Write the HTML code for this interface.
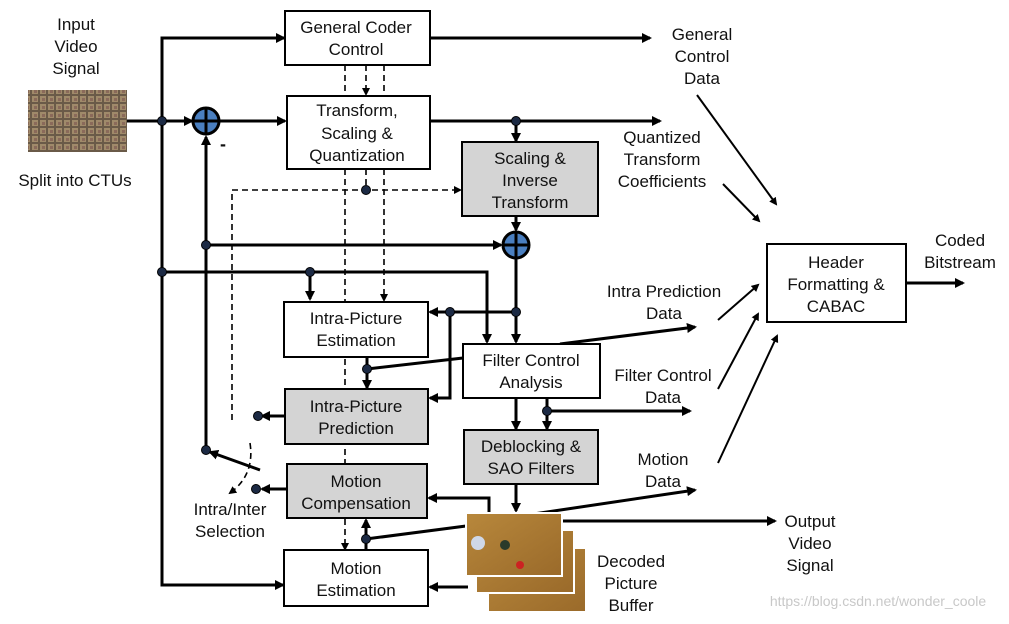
<!DOCTYPE html>
<html><head><meta charset="utf-8"><style>
html,body{margin:0;padding:0;background:#fff}
svg text{font-family:"Liberation Sans",Arial,sans-serif;font-size:17px;fill:#111;text-anchor:middle}
</style></head><body>
<svg width="1009" height="619" viewBox="0 0 1009 619" xmlns="http://www.w3.org/2000/svg">
<defs>
<marker id="a" markerWidth="10" markerHeight="10" refX="8" refY="5" orient="auto" markerUnits="userSpaceOnUse"><path d="M0,0 L10,5 L0,10 z" fill="#000"/></marker>
<marker id="s" markerWidth="8" markerHeight="8" refX="6" refY="4" orient="auto" markerUnits="userSpaceOnUse"><path d="M0,0 L8,4 L0,8 z" fill="#000"/></marker>
<pattern id="img" width="8" height="8" patternUnits="userSpaceOnUse"><rect width="8" height="8" fill="#6a5a48"/><rect width="6" height="6" fill="#a08a6a"/><rect x="2" y="2" width="3" height="3" fill="#8a6a5a"/></pattern>
<linearGradient id="court" x1="0" y1="0" x2="1" y2="1"><stop offset="0" stop-color="#b8883c"/><stop offset="1" stop-color="#9a6a2a"/></linearGradient>
</defs>

<g stroke="#000" stroke-width="3" fill="none">
<path d="M127,121 H192" marker-end="url(#a)"/>
<path d="M162,121 V38 H284" marker-end="url(#a)"/>
<path d="M220,121 H285" marker-end="url(#a)"/>
<path d="M430,38 H650" marker-end="url(#a)"/>
<path d="M430,121 H660" marker-end="url(#a)"/>
<path d="M516,121 V141" marker-end="url(#a)"/>
<path d="M516,216 V230" marker-end="url(#a)"/>
<path d="M206,450 V137" marker-end="url(#a)"/>
<path d="M206,245 H501" marker-end="url(#a)"/>
<path d="M162,121 V585 H283" marker-end="url(#a)"/>
<path d="M162,272 H487 V342" marker-end="url(#a)"/>
<path d="M310,272 V299" marker-end="url(#a)"/>
<path d="M516,259 V342" marker-end="url(#a)"/>
<path d="M516,312 H430" marker-end="url(#a)"/>
<path d="M450,312 V398 H430" marker-end="url(#a)"/>
<path d="M463,358 L367,369"/>
<path d="M367,357 V388" marker-end="url(#a)"/>
<path d="M285,416 H262" marker-end="url(#a)"/>
<path d="M287,489 H262" marker-end="url(#a)"/>
<path d="M260,470 L210,452" marker-end="url(#a)"/>
<path d="M516,398 V429" marker-end="url(#a)"/>
<path d="M547,398 V429" marker-end="url(#a)"/>
<path d="M547,411 H690" marker-end="url(#a)"/>
<path d="M516,484 V511" marker-end="url(#a)"/>
<path d="M489,513 V498 H429" marker-end="url(#a)"/>
<path d="M468,587 H430" marker-end="url(#a)"/>
<path d="M366,550 V520" marker-end="url(#a)"/>
<path d="M366,539 L466,526"/>
<path d="M562,521 H775" marker-end="url(#a)"/>
<path d="M560,344 L695,327" marker-end="url(#a)"/>
<path d="M520,516 L695,490" marker-end="url(#a)"/>
<path d="M906,283 H963" marker-end="url(#a)"/>
</g>
<g stroke="#000" stroke-width="2" fill="none">
<path d="M697,95 L776,204" marker-end="url(#s)"/>
<path d="M723,184 L759,221" marker-end="url(#s)"/>
<path d="M718,320 L758,285" marker-end="url(#s)"/>
<path d="M718,389 L758,314" marker-end="url(#s)"/>
<path d="M718,463 L777,336" marker-end="url(#s)"/>
</g>
<g stroke="#000" stroke-width="1.6" fill="none" stroke-dasharray="6,4">
<path d="M345,65 V96"/><path d="M384,65 V96"/>
<path d="M366,65 V94" marker-end="url(#s)"/>
<path d="M366,169 V190"/>
<path d="M232,420 V190 H460" marker-end="url(#s)"/>
<path d="M384,169 V300" marker-end="url(#s)"/>
<path d="M345,169 V549" marker-end="url(#s)"/>
<path d="M250,443 Q255,475 230,493" marker-end="url(#s)"/>
</g>

<g stroke="#000" stroke-width="2">
<rect x="285" y="11" width="145" height="54" fill="#fff"/>
<rect x="287" y="96" width="143" height="73" fill="#fff"/>
<rect x="462" y="142" width="136" height="74" fill="#d4d4d4"/>
<rect x="284" y="302" width="144" height="55" fill="#fff"/>
<rect x="463" y="344" width="137" height="54" fill="#fff"/>
<rect x="285" y="389" width="143" height="55" fill="#d4d4d4"/>
<rect x="464" y="430" width="134" height="54" fill="#d4d4d4"/>
<rect x="287" y="464" width="140" height="54" fill="#d4d4d4"/>
<rect x="284" y="550" width="144" height="56" fill="#fff"/>
<rect x="767" y="244" width="139" height="78" fill="#fff"/>
</g>

<g stroke="#000" stroke-width="3">
<circle cx="206" cy="121" r="13" fill="#4a7fc0"/>
<path d="M193,121 H219 M206,108 V134"/>
<circle cx="516" cy="245" r="13" fill="#4a7fc0"/>
<path d="M503,245 H529 M516,232 V258"/>
</g>
<text x="223" y="150" style="font-size:18px;font-weight:bold">-</text>
<g fill="#1c2a44" stroke="#000" stroke-width="1">
<circle cx="162" cy="121" r="4.5"/><circle cx="516" cy="121" r="4.5"/>
<circle cx="366" cy="190" r="4.5"/><circle cx="206" cy="245" r="4.5"/>
<circle cx="162" cy="272" r="4.5"/><circle cx="310" cy="272" r="4.5"/>
<circle cx="516" cy="312" r="4.5"/><circle cx="450" cy="312" r="4.5"/>
<circle cx="367" cy="369" r="4.5"/><circle cx="258" cy="416" r="4.5"/>
<circle cx="206" cy="450" r="4.5"/><circle cx="256" cy="489" r="4.5"/>
<circle cx="547" cy="411" r="4.5"/><circle cx="366" cy="539" r="4.5"/>
</g>

<rect x="28" y="90" width="99" height="62" fill="url(#img)"/>
<rect x="488" y="548" width="98" height="64" fill="url(#court)" stroke="#fff" stroke-width="2"/>
<rect x="476" y="530" width="98" height="63" fill="url(#court)" stroke="#fff" stroke-width="2"/>
<rect x="466" y="513" width="96" height="63" fill="url(#court)" stroke="#fff" stroke-width="2"/>
<circle cx="478" cy="543" r="7" fill="#cfd8e8"/>
<circle cx="505" cy="545" r="5" fill="#2a3a2a"/><circle cx="520" cy="565" r="4" fill="#c22"/>

<text x="356" y="33">General Coder</text><text x="356" y="55">Control</text>
<text x="357" y="116">Transform,</text><text x="357" y="139">Scaling &amp;</text><text x="357" y="161">Quantization</text>
<text x="530" y="164">Scaling &amp;</text><text x="530" y="186">Inverse</text><text x="530" y="208">Transform</text>
<text x="356" y="324">Intra-Picture</text><text x="356" y="346">Estimation</text>
<text x="531" y="366">Filter Control</text><text x="531" y="388">Analysis</text>
<text x="356" y="412">Intra-Picture</text><text x="356" y="434">Prediction</text>
<text x="531" y="452">Deblocking &amp;</text><text x="531" y="474">SAO Filters</text>
<text x="356" y="487">Motion</text><text x="356" y="509">Compensation</text>
<text x="356" y="574">Motion</text><text x="356" y="596">Estimation</text>
<text x="836" y="268">Header</text><text x="836" y="290">Formatting &amp;</text><text x="836" y="312">CABAC</text>
<text x="76" y="30">Input</text><text x="76" y="52">Video</text><text x="76" y="74">Signal</text>
<text x="75" y="186">Split into CTUs</text>
<text x="702" y="40">General</text><text x="702" y="62">Control</text><text x="702" y="84">Data</text>
<text x="662" y="143">Quantized</text><text x="662" y="165">Transform</text><text x="662" y="187">Coefficients</text>
<text x="664" y="297">Intra Prediction</text><text x="664" y="319">Data</text>
<text x="663" y="381">Filter Control</text><text x="663" y="403">Data</text>
<text x="663" y="465">Motion</text><text x="663" y="487">Data</text>
<text x="960" y="246">Coded</text><text x="960" y="268">Bitstream</text>
<text x="230" y="515">Intra/Inter</text><text x="230" y="537">Selection</text>
<text x="810" y="527">Output</text><text x="810" y="549">Video</text><text x="810" y="571">Signal</text>
<text x="631" y="567">Decoded</text><text x="631" y="589">Picture</text><text x="631" y="611">Buffer</text>
<text x="878" y="606" style="font-size:14px;fill:#c8c8c8">https://blog.csdn.net/wonder_coole</text>
</svg>
</body></html>
